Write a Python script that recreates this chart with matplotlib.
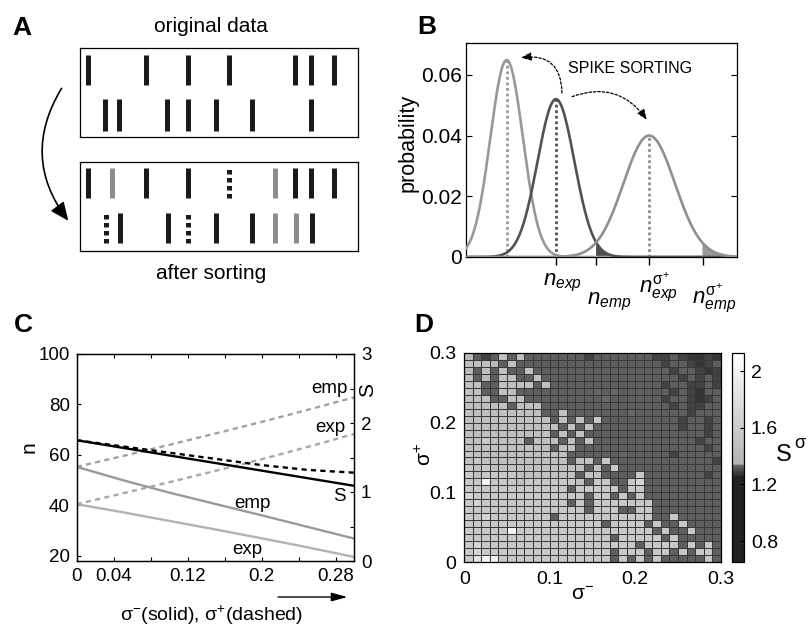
import numpy as np
import matplotlib
matplotlib.use('Agg')
import matplotlib.pyplot as plt
from matplotlib.colors import LinearSegmentedColormap
from matplotlib.patches import FancyArrowPatch

plt.rcParams['font.family'] = ['Liberation Sans', 'DejaVu Sans']
plt.rcParams['mathtext.fontset'] = 'custom'
plt.rcParams['mathtext.rm'] = 'Liberation Sans'
plt.rcParams['mathtext.it'] = 'Liberation Sans:italic'
plt.rcParams['mathtext.bf'] = 'Liberation Sans:bold'

W, H = 809, 626

# ---------------- data ----------------
# panel A: spike times (0-100 across each box)
orig_row1 = [2.9, 23.7, 38.8, 53.6, 77.3, 83.1, 91.4]
orig_row2 = [9.0, 14.0, 31.3, 38.8, 48.9, 61.9, 83.1]
sorted_row1_black = [2.9, 23.7, 38.8, 77.3, 83.1, 91.4]
sorted_row1_gray = [11.6, 70.1]
sorted_row1_dot = [53.7]
sorted_row2_black = [14.4, 31.5, 48.9, 61.8, 83.3]
sorted_row2_gray = [70.1, 77.7]
sorted_row2_dot = [9.2, 38.8]

# panel B: three count distributions
peak_means = [15.0, 33.2, 67.6]
peak_sds = [6.0, 6.8, 9.5]
peak_heights = [0.0649, 0.052, 0.040]
peak_colors = ['0.6', '0.32', '0.56']
b_ticks = [33.2, 48.0, 67.6, 87.3]
b_tick_names = [r'$n_{exp}$', r'$n_{emp}$',
                r'$n^{\mathrm{\sigma}^{+}}_{exp}$', r'$n^{\mathrm{\sigma}^{+}}_{emp}$']

# panel C
sigma_grid = [0, 0.05, 0.1, 0.15, 0.2, 0.25, 0.3]
n_emp_minus = [55.3, 50.0, 45.1, 40.6, 36.1, 31.5, 26.9]
n_exp_minus = [40.5, 37.3, 33.9, 30.5, 27.0, 23.4, 19.6]
n_emp_plus = [55.3, 59.6, 64.0, 68.5, 73.1, 77.9, 82.8]
n_exp_plus = [40.5, 44.8, 49.2, 53.7, 58.3, 63.2, 68.3]
S_minus = [1.75, 1.64, 1.53, 1.42, 1.31, 1.20, 1.09]
S_plus = [1.75, 1.66, 1.57, 1.48, 1.39, 1.32, 1.28]

# panel D: S^sigma grid, top row = sigma+ 0.29, columns sigma- 0..0.29
level_values = {'@': 1.27, '#': 1.29, '.': 1.325, '+': 1.337,
                '4': 1.40, '5': 1.48, '6': 1.56, '7': 1.68, '8': 1.82, '9': 2.0}
grid_rows = [
    "4.#.5.5..." + "....#....." + "..##.#@@#@",
    "5554.5...." + ".........." + "...#..#@#.",
    "4.5.5..5.." + ".........." + "....#..#@#",
    "5.4.55..5." + ".........." + ".....#.#.#",
    "55..5555.5" + ".........." + "...#..##.#",
    "55..55...." + ".....+.+.." + "....#.#@..",
    "555..55..." + "......+..." + "...#..#@#.",
    "55555.555." + ".........." + "....#.##..",
    "555555555." + ".5.......+" + "......#...",
    "5555555555" + ".5.5.6...." + ".....#..#.",
    "5555555555" + "5.5.5....." + ".....#..#.",
    "5555555555" + ".5.5......" + "........#.",
    "5565555.55" + "5.5.5....." + ".......#..",
    "5555555555" + ".55......." + "........#.",
    "6555555555" + "55......+." + "....#.....",
    "5655555555" + "55.55.6..." + ".........#",
    "6565555555" + "5555.5.6.." + "..........",
    "6566665555" + "555.55...." + "6.......#.",
    "6696665666" + "6665.66..6" + "7.........",
    "6666666666" + "66.66666.6" + "6.........",
    "7666666666" + "6666.66.6." + "6.........",
    "6766666666" + "66.6.66666" + "66........",
    "6666666666" + "6666.666.." + "66........",
    "6676666666" + ".666666666" + "66..6.....",
    "6666666666" + "666666.666" + "6.6..6....",
    "6666696666" + "6666666666" + "66.6..6...",
    "6666666666" + "6666666.66" + "666.6.....",
    "6766666666" + "6666666666" + ".6666.6.6.",
    "6766666666" + "6666666.66" + "6.66.6.66.",
    "6899666666" + "6666666.6." + "6.6.....6.",
]
cbar_ticks = [0.8, 1.2, 1.6, 2.0]


def fx(px):
    return px / W


def fy(py):
    return 1 - py / H


fig = plt.figure(figsize=(W / 100, H / 100), dpi=100)

# ---------------- panel A ----------------
def spike_box(top, bottom, rows):
    ax = fig.add_axes([fx(80), fy(bottom), fx(358) - fx(80), fy(top) - fy(bottom)])
    ax.set_xlim(0, 100)
    ax.set_ylim(0, 1)
    ax.set_xticks([])
    ax.set_yticks([])
    for s in ax.spines.values():
        s.set_linewidth(0.9)
    for (y0, y1), groups in rows:
        for times, color, ls in groups:
            if times:
                ax.vlines(times, y0, y1, colors=color, linewidth=3.6,
                          linestyles=ls, capstyle='butt')
    return ax

spike_box(48, 137, [((0.58, 0.92), [(orig_row1, '0.1', 'solid')]),
                    ((0.07, 0.43), [(orig_row2, '0.1', 'solid')])])
spike_box(162, 251, [((0.6, 0.93), [(sorted_row1_black, '0.1', 'solid'),
                                    (sorted_row1_gray, '0.55', 'solid'),
                                    (sorted_row1_dot, '0.1', (0, (0.9, 0.7)))]),
                     ((0.09, 0.43), [(sorted_row2_black, '0.1', 'solid'),
                                     (sorted_row2_gray, '0.55', 'solid'),
                                     (sorted_row2_dot, '0.1', (0, (0.9, 0.7)))])])
fig.text(fx(211), fy(27), 'original data', ha='center', va='center', fontsize=15)
fig.text(fx(211), fy(273), 'after sorting', ha='center', va='center', fontsize=15)
fig.patches.append(FancyArrowPatch((fx(63), fy(86)), (fx(70), fy(223)),
                                   transform=fig.transFigure, figure=fig,
                                   connectionstyle='arc3,rad=0.35',
                                   arrowstyle='-|>,head_length=0.8,head_width=0.35',
                                   mutation_scale=14, linewidth=1.2, color='black'))

# ---------------- panel B ----------------
axb = fig.add_axes([fx(466), fy(257), fx(737) - fx(466), fy(43) - fy(257)])
xs = np.linspace(0, 100, 600)
curves = []
for m, sd, h, c in zip(peak_means, peak_sds, peak_heights, peak_colors):
    y = h * np.exp(-0.5 * ((xs - m) / sd) ** 2)
    curves.append(y)
    axb.plot(xs, y, color=c, linewidth=1.9, zorder=3)
    axb.plot([m, m], [0, h], color=c, linewidth=2.0, linestyle=(0, (1.0, 1.0)), zorder=2)
axb.fill_between(xs, 0, curves[1], where=xs >= b_ticks[1], color='0.3', zorder=2)
axb.fill_between(xs, 0, curves[2], where=xs >= b_ticks[3], color='0.6', zorder=2)
axb.set_xlim(0, 100)
axb.set_ylim(0, 0.0705)
axb.set_yticks([0, 0.02, 0.04, 0.06])
axb.set_yticklabels(['0', '0.02', '0.04', '0.06'], fontsize=15)
axb.tick_params(axis='y', direction='in', length=4, right=True, pad=3)
axb.set_xticks(b_ticks)
axb.set_xticklabels([])
axb.tick_params(axis='x', direction='out', length=6, width=1)
for s in axb.spines.values():
    s.set_linewidth(0.9)
label_offsets = [(-13, -28), (-9, -47), (-10, -36), (-11, -47)]
for t, name, (dx, dy) in zip(b_ticks, b_tick_names, label_offsets):
    axb.annotate(name, xy=(t, 0), xycoords=('data', 'axes fraction'),
                 xytext=(dx, dy), textcoords='offset pixels',
                 ha='left', va='baseline', fontsize=16, annotation_clip=False)
axb.text(0.375, 0.88, 'SPIKE SORTING', transform=axb.transAxes, fontsize=11.5,
         ha='left', va='center')
arrow_kw = dict(arrowstyle='-|>,head_length=0.6,head_width=0.25', mutation_scale=10,
                linewidth=0.9, color='black', linestyle=(0, (2, 1.5)))
axb.add_patch(FancyArrowPatch((35.4, 0.0531), (19.3, 0.0655),
                              connectionstyle='arc3,rad=0.6', **arrow_kw))
axb.add_patch(FancyArrowPatch((38.2, 0.0525), (67.3, 0.0445),
                              connectionstyle='arc3,rad=-0.4', **arrow_kw))
fig.text(fx(408), fy(143), 'probability', rotation=90, ha='center', va='center',
         fontsize=15.5)

# ---------------- panel C ----------------
axc = fig.add_axes([fx(76.7), fy(561), fx(354) - fx(76.7), fy(354) - fy(561)])
axc2 = axc.twinx()
axc.plot(sigma_grid, n_emp_minus, color='0.6', linewidth=1.7)
axc.plot(sigma_grid, n_exp_minus, color='0.7', linewidth=1.7)
axc.plot(sigma_grid, n_emp_plus, color='0.63', linewidth=1.7, linestyle=(0, (2.2, 1.8)))
axc.plot(sigma_grid, n_exp_plus, color='0.66', linewidth=1.7, linestyle=(0, (2.2, 1.8)))
axc2.plot(sigma_grid, S_plus, color='black', linewidth=1.7, linestyle=(0, (2.2, 1.8)))
axc2.plot(sigma_grid, S_minus, color='black', linewidth=1.7)
axc.set_xlim(0, 0.3)
axc.set_ylim(18, 100)
axc2.set_ylim(0, 3)
axc.set_xticks([0, 0.04, 0.08, 0.12, 0.16, 0.2, 0.24, 0.28])
axc.set_xticklabels(['0', '0.04', '', '0.12', '', '0.2', '', '0.28'], fontsize=13.5)
axc.set_yticks([20, 40, 60, 80, 100])
axc.set_yticklabels(['20', '40', '60', '80', '100'], fontsize=13.5)
axc2.set_yticks([0, 0.5, 1, 1.5, 2, 2.5, 3])
axc2.set_yticklabels(['0', '', '1', '', '2', '', '3'], fontsize=13.5)
axc.tick_params(direction='in', length=3, top=True, pad=5)
axc2.tick_params(direction='in', length=3, pad=5)
for a in (axc, axc2):
    for s in a.spines.values():
        s.set_linewidth(0.9)
axc.text(0.2735, 86.4, 'emp', ha='center', va='center', fontsize=13.5)
axc.text(0.2746, 71.0, 'exp', ha='center', va='center', fontsize=13.5)
axc.text(0.2837, 43.5, 'S', ha='center', va='center', fontsize=13.5)
axc.text(0.190, 40.9, 'emp', ha='center', va='center', fontsize=13.5)
axc.text(0.185, 22.7, 'exp', ha='center', va='center', fontsize=13.5)
axc.annotate('', xy=(0.986, -0.174), xytext=(0.716, -0.174), xycoords='axes fraction',
             arrowprops=dict(arrowstyle='-|>,head_length=0.8,head_width=0.22',
                             mutation_scale=12, color='black', linewidth=1))
fig.text(fx(212), fy(615), r'$\mathrm{\sigma}^{-}$(solid), $\mathrm{\sigma}^{+}$(dashed)',
         ha='center', va='center', fontsize=14)
fig.text(fx(29), fy(447), 'n', rotation=90, ha='center', va='center', fontsize=15)
fig.text(fx(368), fy(390), 'S', rotation=90, ha='center', va='center', fontsize=15)

# ---------------- panel D ----------------
axd = fig.add_axes([fx(464.3), fy(562.3), fx(720.7) - fx(464.3), fy(352.7) - fy(562.3)])
Z = np.array([[level_values[ch] for ch in row] for row in grid_rows[::-1]])
vmin, vmax = 0.65, 2.13
stops = [(0.65, '#212121'), (1.255, '#212121'), (1.26, '#2b2b2b'),
         (1.34, '#6b6b6b'), (1.341, '#b3b3b3'), (2.13, '#ffffff')]
cmap = LinearSegmentedColormap.from_list(
    'sgray', [((v - vmin) / (vmax - vmin), c) for v, c in stops])
edges = np.linspace(0, 0.3, Z.shape[0] + 1)
mesh = axd.pcolormesh(edges, edges, Z, cmap=cmap, vmin=vmin, vmax=vmax,
                      edgecolors='0.22', linewidth=0.6)
axd.set_xlim(0, 0.3)
axd.set_ylim(0, 0.3)
axd.set_xticks([0, 0.1, 0.2, 0.3])
axd.set_xticklabels(['0', '0.1', '0.2', '0.3'], fontsize=14)
axd.set_yticks([0, 0.1, 0.2, 0.3])
axd.set_yticklabels(['0', '0.1', '0.2', '0.3'], fontsize=14)
axd.tick_params(length=0, pad=6)
for s in axd.spines.values():
    s.set_linewidth(0.9)
fig.text(fx(582), fy(595), r'$\mathrm{\sigma}^{-}$', ha='center', va='center', fontsize=15)
fig.text(fx(425), fy(455), r'$\mathrm{\sigma}^{+}$', rotation=90, ha='center', va='center',
         fontsize=15)

cax = fig.add_axes([fx(732), fy(562.3), fx(744) - fx(732), fy(352.7) - fy(562.3)])
cb = fig.colorbar(mesh, cax=cax, ticks=cbar_ticks)
cb.ax.set_yticklabels(['0.8', '1.2', '1.6', '2'], fontsize=14)
cb.ax.tick_params(direction='in', length=3, pad=5)
cb.outline.set_linewidth(0.9)
fig.text(fx(784), fy(455), 'S', ha='center', va='center', fontsize=17)
fig.text(fx(800), fy(443), r'$\mathrm{\sigma}$', ha='center', va='center', fontsize=13)

# panel letters
for letter, px, py in [('A', 12, 16), ('B', 417, 15), ('C', 14, 313), ('D', 414, 313)]:
    fig.text(fx(px), fy(py), letter, fontsize=19, fontweight='bold', ha='left', va='top')

fig.savefig('out.png', dpi=100)
